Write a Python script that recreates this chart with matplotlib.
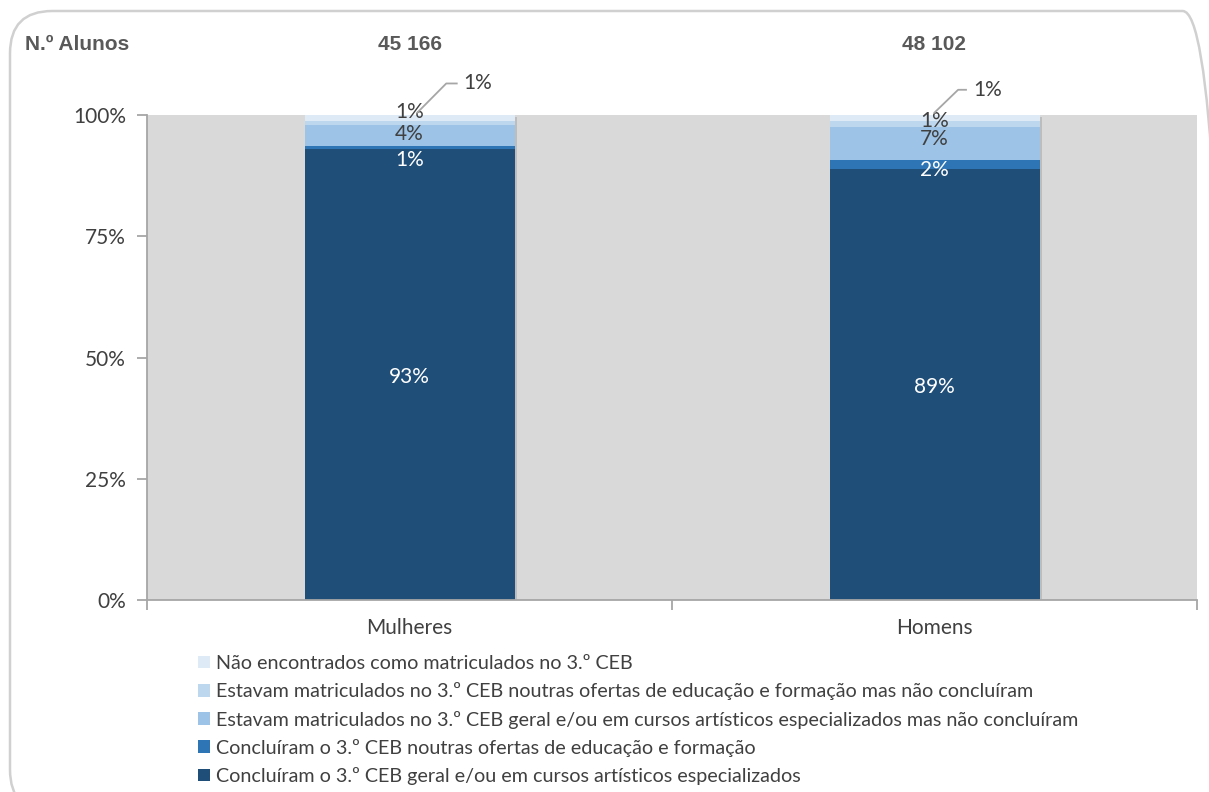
import numpy as np
import matplotlib.pyplot as plt
from matplotlib.patches import FancyBboxPatch, Rectangle

plt.rcParams['font.family'] = ['Lato', 'DejaVu Sans']

categories = ['Mulheres', 'Homens']
n_alunos = ['45 166', '48 102']
series = [
    'Concluíram o 3.º CEB geral e/ou em cursos artísticos especializados',
    'Concluíram o 3.º CEB noutras ofertas de educação e formação',
    'Estavam matriculados no 3.º CEB geral e/ou em cursos artísticos especializados mas não concluíram',
    'Estavam matriculados no 3.º CEB noutras ofertas de educação e formação mas não concluíram',
    'Não encontrados como matriculados no 3.º CEB',
]
values = [
    [92.9, 88.9],
    [0.7, 1.8],
    [4.4, 6.8],
    [0.7, 1.2],
    [1.3, 1.3],
]
labels = [
    ['93%', '89%'],
    ['1%', '2%'],
    ['4%', '7%'],
    ['1%', '1%'],
    ['1%', '1%'],
]
colors = ['#1f4e79', '#2e75b6', '#9dc3e6', '#bdd7ee', '#deebf7']
label_colors = ['white', 'white', '#404040', '#404040', '#404040']

W, H = 1209, 792
fig = plt.figure(figsize=(W / 100, H / 100), dpi=100)

# rounded frame (runs off the right and bottom edges)
frame = FancyBboxPatch((10 / W, -20 / H), (1225 - 10) / W, (792 - 11 + 20) / H,
                       boxstyle='round,pad=0,rounding_size=0.035',
                       transform=fig.transFigure, fill=False,
                       edgecolor='#d0d0d0', linewidth=1.8, mutation_aspect=W / H)
fig.patches.append(frame)

ax = fig.add_axes([147 / W, 1 - 600 / H, (1197 - 147) / W, (600 - 115) / H])
ax.set_facecolor('#d9d9d9')
x = np.arange(len(categories))
ax.set_xlim(-0.5, len(categories) - 0.5)
ax.set_ylim(0, 100)

bottom = np.zeros(len(categories))
for i, s in enumerate(series):
    v = np.array(values[i])
    # soft shadow
    for j in range(len(categories)):
        ax.add_patch(Rectangle((x[j] - 0.2 + 0.004, bottom[j] - 0.4), 0.4, v[j],
                               facecolor='#bdbdbd', edgecolor='none', zorder=1))
    ax.bar(x, v, 0.4, bottom=bottom, color=colors[i], label=s, zorder=2)
    bottom = bottom + v

# data labels
cum = np.cumsum(np.array(values), axis=0)
offsets = [
    [(0, -2), (0, -2)],
    [(0, -9), (0, -4)],
    [(0, 1), (0, 3)],
    [(0, 8), (0, 2)],
]
for i in range(4):
    for j in range(len(categories)):
        yc = cum[i][j] - values[i][j] / 2
        ax.annotate(labels[i][j], (x[j], yc), xytext=offsets[i][j],
                    textcoords='offset points', ha='center', va='center',
                    color=label_colors[i], fontsize=15, zorder=5)

# top labels with leader lines
leader = [((0.015, 100.5), (0.07, 106.5), (0.09, 106.5), (0.103, 106.5)),
          ((0.0, 100.5), (0.045, 105.2), (0.06, 105.2), (0.073, 105.2))]
for j in range(len(categories)):
    p0, p1, p2, pt = leader[j]
    ax.plot([x[j] + p0[0], x[j] + p1[0], x[j] + p2[0]], [p0[1], p1[1], p2[1]],
            color='#a6a6a6', lw=1.3, clip_on=False, zorder=5)
    ax.text(x[j] + pt[0], pt[1], labels[4][j], ha='left', va='center',
            color='#404040', fontsize=15)

# header row
bold = dict(fontsize=15, fontweight='bold', color='#595959',
            family=['Liberation Sans', 'DejaVu Sans'])
fig.text(25 / W, 1 - 45 / H, 'N.º Alunos', ha='left', va='center', **bold)
for j in range(len(categories)):
    ax.text(x[j], 1 + 70 / 485, n_alunos[j], transform=ax.get_xaxis_transform(),
            ha='center', va='center', **bold)

ax.set_yticks([0, 25, 50, 75, 100])
ax.set_yticklabels(['0%', '25%', '50%', '75%', '100%'])
ax.set_xticks(x)
ax.set_xticklabels(categories)
ax.set_xticks([-0.5, 0.5, 1.5], minor=True)
ax.tick_params(axis='x', which='major', length=0, pad=13, labelsize=15, colors='#404040')
ax.tick_params(axis='x', which='minor', length=7, color='#a6a6a6', width=1.3)
ax.tick_params(axis='y', length=7, color='#a6a6a6', width=1.3, labelsize=15,
               labelcolor='#404040', pad=8)
for side in ['top', 'right']:
    ax.spines[side].set_visible(False)
for side in ['left', 'bottom']:
    ax.spines[side].set_color('#a6a6a6')
    ax.spines[side].set_linewidth(1.3)

handles, lbls = ax.get_legend_handles_labels()
fig.legend(handles[::-1], lbls[::-1], loc='upper left',
           bbox_to_anchor=(198 / W, 1 - 655 / H), frameon=False,
           fontsize=14.2, handlelength=0.62, handleheight=0.62, handletextpad=0.3,
           labelspacing=0.52, labelcolor='#404040', borderaxespad=0, borderpad=0)

fig.savefig('out.png', dpi=100)
